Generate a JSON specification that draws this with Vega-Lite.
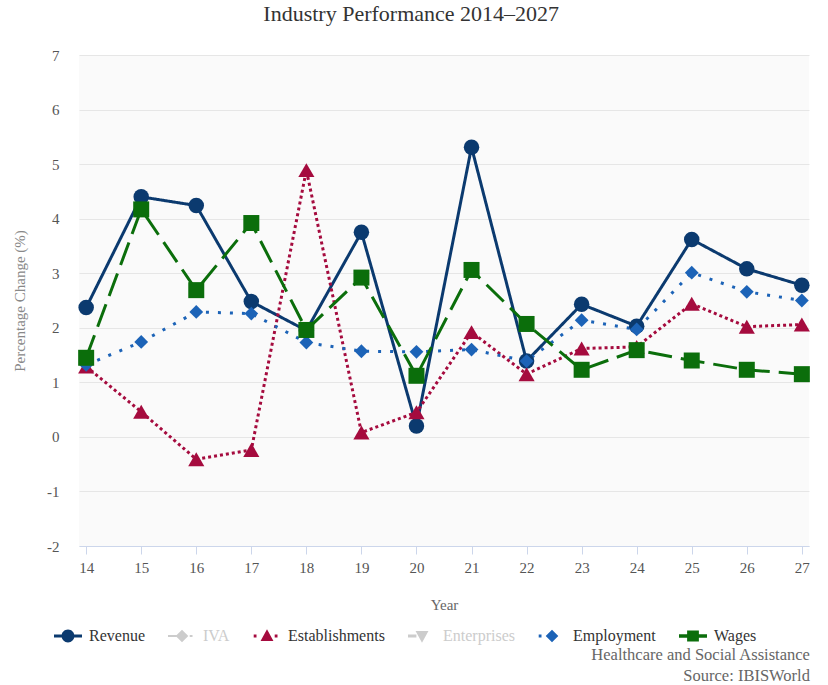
{
  "$schema": "https://vega.github.io/schema/vega-lite/v6.json",
  "background": "#ffffff",
  "padding": {"left": 12, "top": 3, "right": 16, "bottom": 0},
  "config": {
    "font": "Liberation Serif",
    "view": {"stroke": null, "fill": "#fafafa"}
  },
  "title": {
    "text": ["Healthcare and Social Assistance", "Source: IBISWorld"],
    "orient": "bottom",
    "anchor": "end",
    "font": "Liberation Serif",
    "fontSize": 16.5,
    "fontWeight": "normal",
    "color": "#666666",
    "lineHeight": 21,
    "offset": 3
  },
  "datasets": {
    "perf": [
      {"year": 14, "series": "Revenue", "value": 2.37},
      {"year": 15, "series": "Revenue", "value": 4.40},
      {"year": 16, "series": "Revenue", "value": 4.24},
      {"year": 17, "series": "Revenue", "value": 2.48},
      {"year": 18, "series": "Revenue", "value": 1.95},
      {"year": 19, "series": "Revenue", "value": 3.75},
      {"year": 20, "series": "Revenue", "value": 0.20},
      {"year": 21, "series": "Revenue", "value": 5.31},
      {"year": 22, "series": "Revenue", "value": 1.39},
      {"year": 23, "series": "Revenue", "value": 2.43},
      {"year": 24, "series": "Revenue", "value": 2.03},
      {"year": 25, "series": "Revenue", "value": 3.62},
      {"year": 26, "series": "Revenue", "value": 3.08},
      {"year": 27, "series": "Revenue", "value": 2.78},
      {"year": 14, "series": "Establishments", "value": 1.29},
      {"year": 15, "series": "Establishments", "value": 0.46},
      {"year": 16, "series": "Establishments", "value": -0.41},
      {"year": 17, "series": "Establishments", "value": -0.24},
      {"year": 18, "series": "Establishments", "value": 4.89},
      {"year": 19, "series": "Establishments", "value": 0.08},
      {"year": 20, "series": "Establishments", "value": 0.45},
      {"year": 21, "series": "Establishments", "value": 1.92},
      {"year": 22, "series": "Establishments", "value": 1.15},
      {"year": 23, "series": "Establishments", "value": 1.62},
      {"year": 24, "series": "Establishments", "value": 1.65},
      {"year": 25, "series": "Establishments", "value": 2.44},
      {"year": 26, "series": "Establishments", "value": 2.02},
      {"year": 27, "series": "Establishments", "value": 2.06},
      {"year": 14, "series": "Employment", "value": 1.32},
      {"year": 15, "series": "Employment", "value": 1.74},
      {"year": 16, "series": "Employment", "value": 2.29},
      {"year": 17, "series": "Employment", "value": 2.26},
      {"year": 18, "series": "Employment", "value": 1.73},
      {"year": 19, "series": "Employment", "value": 1.57},
      {"year": 20, "series": "Employment", "value": 1.56},
      {"year": 21, "series": "Employment", "value": 1.60},
      {"year": 22, "series": "Employment", "value": 1.39},
      {"year": 23, "series": "Employment", "value": 2.14},
      {"year": 24, "series": "Employment", "value": 1.97},
      {"year": 25, "series": "Employment", "value": 3.01},
      {"year": 26, "series": "Employment", "value": 2.66},
      {"year": 27, "series": "Employment", "value": 2.50},
      {"year": 14, "series": "Wages", "value": 1.45},
      {"year": 15, "series": "Wages", "value": 4.17},
      {"year": 16, "series": "Wages", "value": 2.69},
      {"year": 17, "series": "Wages", "value": 3.92},
      {"year": 18, "series": "Wages", "value": 1.96},
      {"year": 19, "series": "Wages", "value": 2.92},
      {"year": 20, "series": "Wages", "value": 1.12},
      {"year": 21, "series": "Wages", "value": 3.06},
      {"year": 22, "series": "Wages", "value": 2.07},
      {"year": 23, "series": "Wages", "value": 1.23},
      {"year": 24, "series": "Wages", "value": 1.59},
      {"year": 25, "series": "Wages", "value": 1.40},
      {"year": 26, "series": "Wages", "value": 1.23},
      {"year": 27, "series": "Wages", "value": 1.15}
    ]
  },
  "vconcat": [
    {
      "width": 730,
      "height": 491,
      "title": {
        "text": "Industry Performance 2014–2027",
        "font": "Liberation Serif",
        "fontSize": 22,
        "fontWeight": "normal",
        "color": "#333333",
        "anchor": "middle",
        "frame": "bounds",
        "offset": 22
      },
      "data": {"name": "perf"},
      "encoding": {
        "x": {
          "field": "year",
          "type": "ordinal",
          "scale": {"type": "point", "padding": 0.13},
          "axis": {
            "title": "Year",
            "labelAngle": 0,
            "labelFont": "Liberation Serif",
            "labelFontSize": 15,
            "labelColor": "#555555",
            "labelPadding": 6,
            "titleFont": "Liberation Serif",
            "titleFontSize": 15,
            "titleFontWeight": "normal",
            "titleColor": "#666666",
            "titlePadding": 22,
            "domainColor": "#ccd6eb",
            "domainWidth": 1,
            "tickColor": "#ccd6eb",
            "tickSize": 8,
            "grid": false
          }
        },
        "y": {
          "field": "value",
          "type": "quantitative",
          "scale": {"domain": [-2, 7], "nice": false, "zero": false},
          "axis": {
            "title": "Percentage Change (%)",
            "values": [-2, -1, 0, 1, 2, 3, 4, 5, 6, 7],
            "labelExpr": "'' + datum.value",
            "domain": false,
            "ticks": false,
            "tickSize": 0,
            "labelFont": "Liberation Serif",
            "labelFontSize": 15,
            "labelColor": "#555555",
            "labelPadding": 20,
            "titleFont": "Liberation Serif",
            "titleFontSize": 15,
            "titleFontWeight": "normal",
            "titleColor": "#888888",
            "titlePadding": 19,
            "gridColor": "#e6e6e6",
            "gridWidth": 1
          }
        }
      },
      "layer": [
        {
          "mark": {"type": "line", "strokeWidth": 3, "strokeCap": "butt"},
          "encoding": {
            "detail": {"field": "series", "type": "nominal"},
            "color": {
              "condition": [
                {"test": "datum.series === 'Revenue'", "value": "#0b3a6f"},
                {"test": "datum.series === 'Establishments'", "value": "#a50b3e"},
                {"test": "datum.series === 'Employment'", "value": "#1c63b7"}
              ],
              "value": "#0b6e0b"
            },
            "strokeDash": {
              "condition": [
                {"test": "datum.series === 'Revenue'", "value": [1, 0]},
                {"test": "datum.series === 'Establishments'", "value": [3, 3]},
                {"test": "datum.series === 'Employment'", "value": [3, 9]}
              ],
              "value": [24, 9]
            }
          }
        },
        {
          "mark": {"type": "point", "filled": true, "opacity": 1, "strokeWidth": 0},
          "encoding": {
            "color": {
              "condition": [
                {"test": "datum.series === 'Revenue'", "value": "#0b3a6f"},
                {"test": "datum.series === 'Establishments'", "value": "#a50b3e"},
                {"test": "datum.series === 'Employment'", "value": "#1c63b7"}
              ],
              "value": "#0b6e0b"
            },
            "shape": {
              "condition": [
                {"test": "datum.series === 'Revenue'", "value": "circle"},
                {"test": "datum.series === 'Establishments'", "value": "triangle-up"},
                {"test": "datum.series === 'Employment'", "value": "diamond"}
              ],
              "value": "square"
            },
            "size": {
              "condition": [
                {"test": "datum.series === 'Revenue'", "value": 240},
                {"test": "datum.series === 'Establishments'", "value": 260},
                {"test": "datum.series === 'Employment'", "value": 190}
              ],
              "value": 256
            }
          }
        },
        {
          "transform": [{"filter": "datum.value > 100"}],
          "mark": {"type": "point", "filled": true, "opacity": 1, "strokeWidth": 0},
          "encoding": {
            "color": {
              "field": "series",
              "type": "nominal",
              "scale": {
                "domain": ["Revenue", "IVA", "Establishments", "Enterprises", "Employment", "Wages"],
                "range": ["#0b3a6f", "#cccccc", "#a50b3e", "#cccccc", "#1c63b7", "#0b6e0b"]
              },
              "legend": {
                "title": null,
                "orient": "none",
                "direction": "horizontal",
                "legendX": -25,
                "legendY": 567,
                "symbolSize": 784,
                "symbolStrokeWidth": 0,
                "symbolOpacity": 1,
                "labelFont": "Liberation Serif",
                "labelFontSize": 16,
                "labelColor": "#333333",
                "labelOffset": 7,
                "columnPadding": 23,
                "encode": {
                  "labels": {
                    "update": {
                      "fill": {"signal": "datum.label === 'IVA' || datum.label === 'Enterprises' ? '#cccccc' : '#333333'"}
                    }
                  }
                }
              }
            },
            "shape": {
              "field": "series",
              "type": "nominal",
              "scale": {
                "domain": ["Revenue", "IVA", "Establishments", "Enterprises", "Employment", "Wages"],
                "range": [
                  "M-1,-0.1H-0.4V0.1H-1Z M0.4,-0.1H1V0.1H0.4Z M0.46,0A0.46,0.46 0 1,1 -0.46,0A0.46,0.46 0 1,1 0.46,0Z",
                  "M-1,-0.08H-0.4V0.08H-1Z M0.55,-0.08H0.75V0.08H0.55Z M0,-0.45L0.45,0L0,0.45L-0.45,0Z",
                  "M-0.95,-0.1H-0.75V0.1H-0.95Z M0.55,-0.1H0.75V0.1H0.55Z M0,-0.48L0.46,0.36L-0.46,0.36Z",
                  "M-1,-0.1H-0.4V0.1H-1Z M-0.46,-0.36L0.46,-0.36L0,0.48Z",
                  "M-0.95,-0.1H-0.75V0.1H-0.95Z M0,-0.45L0.45,0L0,0.45L-0.45,0Z",
                  "M-1,-0.12H-0.4V0.12H-1Z M0.4,-0.12H1V0.12H0.4Z M-0.42,-0.4H0.42V0.4H-0.42Z"
                ]
              },
              "legend": {
                "title": null,
                "orient": "none",
                "direction": "horizontal",
                "legendX": -25,
                "legendY": 567,
                "symbolSize": 784,
                "symbolStrokeWidth": 0,
                "symbolOpacity": 1,
                "labelFont": "Liberation Serif",
                "labelFontSize": 16,
                "labelColor": "#333333",
                "labelOffset": 7,
                "columnPadding": 23,
                "encode": {
                  "labels": {
                    "update": {
                      "fill": {"signal": "datum.label === 'IVA' || datum.label === 'Enterprises' ? '#cccccc' : '#333333'"}
                    }
                  }
                }
              }
            }
          }
        }
      ]
    }
  ]
}
